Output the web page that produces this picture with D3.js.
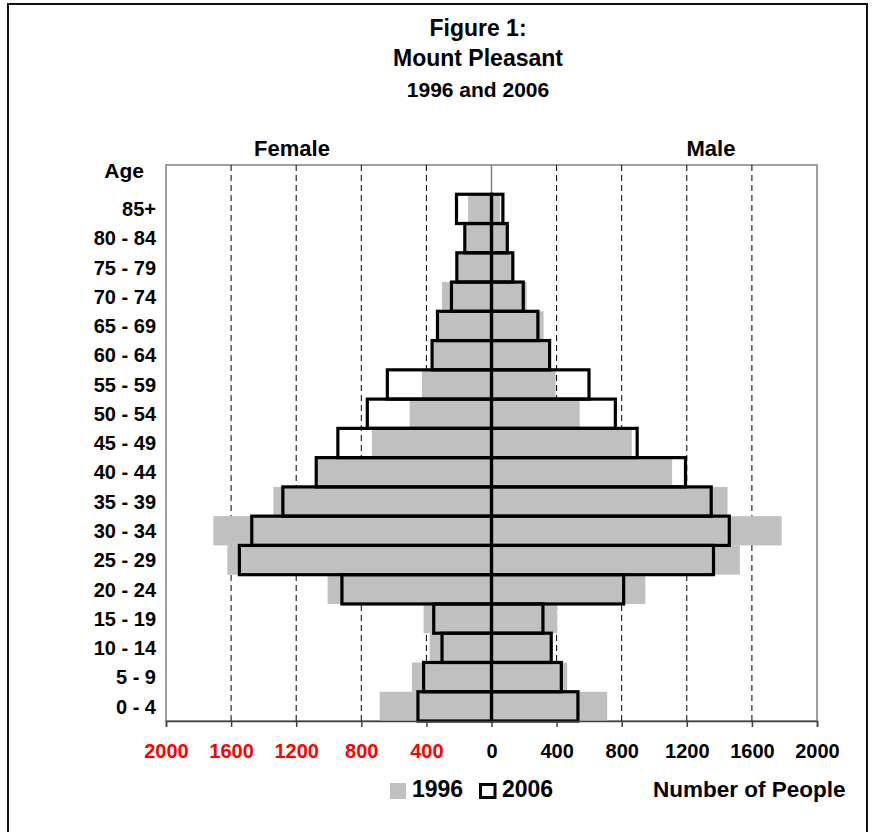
<!DOCTYPE html>
<html>
<head>
<meta charset="utf-8">
<script src="https://cdn.jsdelivr.net/npm/d3@7"></script>
<style>
  body { margin: 0; background: #fff; }
  text { font-family: Arial, "Liberation Sans", sans-serif; font-weight: bold; }
</style>
</head>
<body>
<script>
// age groups, top to bottom
const ages = ["85+", "80 - 84", "75 - 79", "70 - 74", "65 - 69", "60 - 64", "55 - 59", "50 - 54",
  "45 - 49", "40 - 44", "35 - 39", "30 - 34", "25 - 29", "20 - 24", "15 - 19", "10 - 14", "5 - 9", "0 - 4"];
const female1996 = [144, 155, 210, 304, 325, 355, 427, 503, 735, 1070, 1340, 1709, 1623, 1007, 417, 380, 489, 687];
const female2006 = [215, 164, 213, 246, 332, 365, 640, 763, 944, 1077, 1282, 1473, 1549, 919, 355, 304, 417, 452];
const male1996 = [53, 90, 125, 216, 320, 350, 394, 542, 862, 1110, 1450, 1783, 1526, 945, 403, 360, 465, 711];
const male2006 = [70, 97, 131, 195, 285, 357, 599, 761, 895, 1192, 1350, 1461, 1364, 812, 316, 367, 429, 531];
const tickValues = [-2000, -1600, -1200, -800, -400, 0, 400, 800, 1200, 1600, 2000];
const gridValues = [-1600, -1200, -800, -400, 400, 800, 1200, 1600];
const titleLines = ["Figure 1:", "Mount Pleasant", "1996 and 2006"];

const W = 876, H = 832;
const plot = { left: 166, right: 817, top: 165, bottom: 721 };

const svg = d3.select("body").append("svg")
  .attr("width", W)
  .attr("height", H);

// outer chart border
svg.append("rect")
  .attr("x", 8).attr("y", 4)
  .attr("width", 859).attr("height", 850)
  .attr("fill", "#fff")
  .attr("stroke", "#111")
  .attr("stroke-width", 2);

const x = d3.scaleLinear()
  .domain([-2000, 2000])
  .range([plot.left, plot.right]);

// blank band on top, then the age groups
const y = d3.scaleBand()
  .domain(["", ...ages])
  .range([plot.top, plot.bottom]);

// title
const titleSizes = [23, 23, 21];
const titleY = [36, 66, 97];
titleLines.forEach((t, i) => {
  svg.append("text")
    .attr("x", 478)
    .attr("y", titleY[i])
    .attr("text-anchor", "middle")
    .attr("font-size", titleSizes[i] + "px")
    .text(t);
});

// plot area
svg.append("rect")
  .attr("x", plot.left).attr("y", plot.top)
  .attr("width", plot.right - plot.left)
  .attr("height", plot.bottom - plot.top)
  .attr("fill", "#fff")
  .attr("stroke", "#808080")
  .attr("stroke-width", 1.5);

// dashed gridlines
svg.append("g").selectAll("line")
  .data(gridValues)
  .join("line")
  .attr("x1", d => x(d)).attr("x2", d => x(d))
  .attr("y1", plot.top).attr("y2", plot.bottom)
  .attr("stroke", "#000")
  .attr("stroke-width", 1)
  .attr("stroke-dasharray", "6,4");

// centre axis line
svg.append("line")
  .attr("x1", x(0)).attr("x2", x(0))
  .attr("y1", plot.top).attr("y2", plot.bottom)
  .attr("stroke", "#808080")
  .attr("stroke-width", 1.5);

const rows = ages.map((a, i) => ({
  age: a,
  f96: female1996[i], f06: female2006[i],
  m96: male1996[i], m06: male2006[i]
}));

// 1996 grey bars
const bars96 = svg.append("g").attr("fill", "#c0c0c0");
bars96.selectAll(".f").data(rows).join("rect")
  .attr("x", d => x(-d.f96))
  .attr("y", d => y(d.age))
  .attr("width", d => x(0) - x(-d.f96))
  .attr("height", y.bandwidth());
bars96.selectAll(".m").data(rows).join("rect")
  .attr("x", x(0))
  .attr("y", d => y(d.age))
  .attr("width", d => x(d.m96) - x(0))
  .attr("height", y.bandwidth());

// 2006 outlined bars
const bars06 = svg.append("g")
  .attr("fill", "none")
  .attr("stroke", "#000")
  .attr("stroke-width", 3.2);
bars06.selectAll(".f").data(rows).join("rect")
  .attr("x", d => x(-d.f06))
  .attr("y", d => y(d.age))
  .attr("width", d => x(0) - x(-d.f06))
  .attr("height", y.bandwidth());
bars06.selectAll(".m").data(rows).join("rect")
  .attr("x", x(0))
  .attr("y", d => y(d.age))
  .attr("width", d => x(d.m06) - x(0))
  .attr("height", y.bandwidth());

// bottom axis
const xAxis = d3.axisBottom(x)
  .tickValues(tickValues)
  .tickSize(6)
  .tickPadding(17)
  .tickFormat(d => Math.abs(d));

const axisG = svg.append("g")
  .attr("transform", `translate(0,${plot.bottom})`)
  .call(xAxis);
axisG.select(".domain").attr("stroke", "#404040").attr("stroke-width", 1.5);
axisG.selectAll(".tick line").attr("stroke", "#404040").attr("stroke-width", 1.5);
axisG.selectAll(".tick text")
  .attr("font-family", "Arial, 'Liberation Sans', sans-serif")
  .attr("font-weight", "bold")
  .attr("font-size", "20px")
  .attr("fill", d => d < 0 ? "#ff0000" : "#000");

// age labels
svg.append("g").selectAll("text")
  .data(ages)
  .join("text")
  .attr("x", 156)
  .attr("y", d => y(d) + y.bandwidth() / 2)
  .attr("dy", "0.36em")
  .attr("text-anchor", "end")
  .attr("font-size", "20px")
  .text(d => d);

svg.append("text")
  .attr("x", 144).attr("y", 178)
  .attr("text-anchor", "end")
  .attr("font-size", "21px")
  .text("Age");

svg.append("text")
  .attr("x", 292).attr("y", 156)
  .attr("text-anchor", "middle")
  .attr("font-size", "22px")
  .text("Female");

svg.append("text")
  .attr("x", 711).attr("y", 156)
  .attr("text-anchor", "middle")
  .attr("font-size", "22px")
  .text("Male");

// legend
const legend = svg.append("g");
legend.append("rect")
  .attr("x", 390).attr("y", 783)
  .attr("width", 16).attr("height", 16)
  .attr("fill", "#c0c0c0");
legend.append("text")
  .attr("x", 412).attr("y", 797)
  .attr("font-size", "23px")
  .text("1996");
legend.append("rect")
  .attr("x", 480.5).attr("y", 784.5)
  .attr("width", 14.5).attr("height", 13)
  .attr("fill", "none")
  .attr("stroke", "#000")
  .attr("stroke-width", 3);
legend.append("text")
  .attr("x", 502).attr("y", 797)
  .attr("font-size", "23px")
  .text("2006");
legend.append("text")
  .attr("x", 653).attr("y", 797)
  .attr("font-size", "22.5px")
  .text("Number of People");
</script>
</body>
</html>
